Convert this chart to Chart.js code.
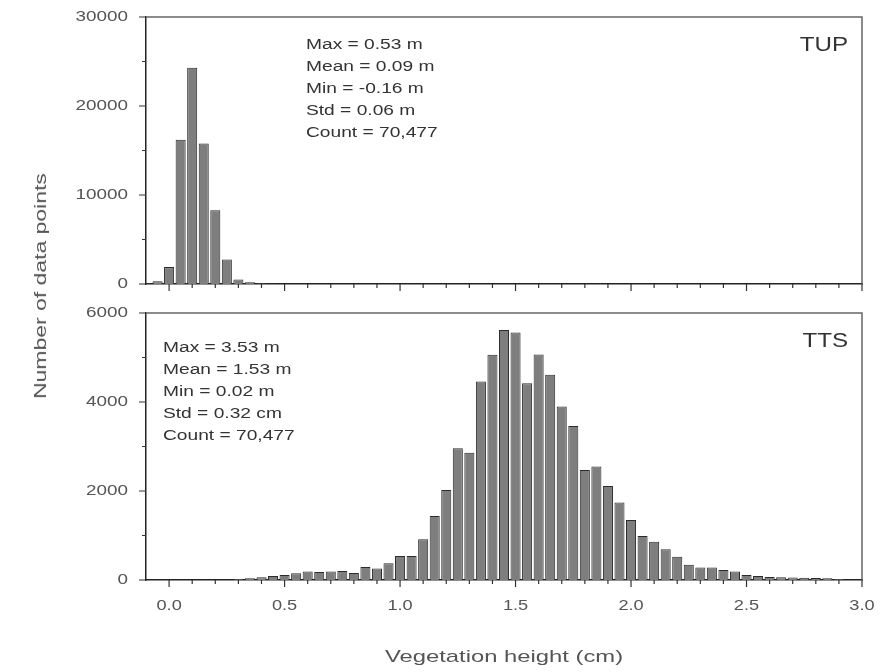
<!DOCTYPE html>
<html>
<head>
<meta charset="utf-8">
<script src="https://cdn.jsdelivr.net/npm/chart.js@4.4.1/dist/chart.umd.min.js"></script>
<style>
  body { margin: 0; background: #fff; }
  #wrap { position: relative; width: 885px; height: 672px; }
  canvas { position: absolute; left: 0; }
  #ytitle {
    position: absolute; left: 41px; top: 286px;
    font: 17px "Liberation Sans", Arial, sans-serif; color: #555; white-space: nowrap;
    transform: translate(-50%, -50%) rotate(-90deg) scaleX(1.35);
  }
</style>
</head>
<body>
<div id="wrap">
  <canvas id="top" width="885" height="300" style="top:0"></canvas>
  <canvas id="bottom" width="885" height="372" style="top:300px"></canvas>
  <div id="ytitle">Number of data points</div>
</div>
<script>
// histogram bins (centre of each 0.05 m class) and counts
const tupBins = [-0.10, -0.05, 0.00, 0.05, 0.10, 0.15, 0.20, 0.25, 0.30, 0.35, 0.40, 0.45, 0.50];
const tupCounts = [60, 300, 1900, 16200, 24300, 15800, 8300, 2750, 500, 200, 80, 40, 27];

const ttsBins = [0.30, 0.35, 0.40, 0.45, 0.50, 0.55, 0.60, 0.65, 0.70, 0.75, 0.80, 0.85, 0.90, 0.95,
  1.00, 1.05, 1.10, 1.15, 1.20, 1.25, 1.30, 1.35, 1.40, 1.45, 1.50, 1.55, 1.60, 1.65, 1.70, 1.75,
  1.80, 1.85, 1.90, 1.95, 2.00, 2.05, 2.10, 2.15, 2.20, 2.25, 2.30, 2.35, 2.40, 2.45, 2.50, 2.55,
  2.60, 2.65, 2.70, 2.75, 2.80, 2.85, 2.90];
const ttsCounts = [20, 40, 60, 90, 110, 150, 190, 180, 190, 200, 160, 290, 260, 375,
  540, 540, 915, 1440, 2020, 2960, 2860, 4460, 5060, 5620, 5560, 4420, 5070, 4610, 3900, 3460,
  2470, 2550, 2110, 1740, 1350, 990, 860, 690, 520, 340, 280, 280, 225, 190, 110, 90,
  70, 60, 55, 50, 45, 40, 20];

const tupYTicks = ['0', '10000', '20000', '30000'];
const tupYMinor = [5000, 15000, 25000];
const ttsYTicks = ['0', '2000', '4000', '6000'];
const ttsYMinor = [1000, 3000, 5000];
const xTickLabels = ['0.0', '0.5', '1.0', '1.5', '2.0', '2.5', '3.0'];

const tupStats = ['Max = 0.53 m', 'Mean = 0.09 m', 'Min = -0.16 m', 'Std = 0.06 m', 'Count = 70,477'];
const ttsStats = ['Max = 3.53 m', 'Mean = 1.53 m', 'Min = 0.02 m', 'Std = 0.32 cm', 'Count = 70,477'];

const FONT = '"Liberation Sans", Arial, sans-serif';

// text in the source is drawn wide, so stretch it horizontally
function wideText(ctx, txt, x, y, size, sx, align, color) {
  ctx.save();
  ctx.font = size + 'px ' + FONT;
  ctx.fillStyle = color;
  ctx.textBaseline = 'middle';
  ctx.textAlign = align;
  ctx.translate(x, y);
  ctx.scale(sx, 1);
  ctx.fillText(txt, 0, 0);
  ctx.restore();
}

const xMinor = [];
for (let i = 1; i < 30; i++) if (i % 5 !== 0) xMinor.push(i / 10);

function panelPlugin(p) {
  return {
    id: 'panel',
    afterDraw(chart) {
      const { ctx, chartArea: a, scales: { x, y } } = chart;
      ctx.save();
      // top / right frame
      ctx.strokeStyle = '#666';
      ctx.lineWidth = 1.5;
      ctx.beginPath();
      ctx.moveTo(a.left, a.top);
      ctx.lineTo(a.right, a.top);
      ctx.lineTo(a.right, a.bottom);
      ctx.stroke();

      ctx.strokeStyle = '#333';
      ctx.lineWidth = 1.2;
      ctx.beginPath();
      p.yTicks.forEach(t => {
        const py = y.getPixelForValue(+t);
        ctx.moveTo(a.left - 7, py); ctx.lineTo(a.left, py);
      });
      p.yMinor.forEach(v => {
        const py = y.getPixelForValue(v);
        ctx.moveTo(a.left - 4, py); ctx.lineTo(a.left, py);
      });
      xTickLabels.forEach(t => {
        const px = x.getPixelForValue(+t);
        ctx.moveTo(px, a.bottom); ctx.lineTo(px, a.bottom + 7);
      });
      xMinor.forEach(v => {
        const px = x.getPixelForValue(v);
        ctx.moveTo(px, a.bottom); ctx.lineTo(px, a.bottom + 4);
      });
      ctx.stroke();
      ctx.restore();

      p.yTicks.forEach(t => {
        wideText(ctx, t, a.left - 18, y.getPixelForValue(+t), 14, 1.35, 'right', '#555');
      });
      if (p.xLabels) {
        xTickLabels.forEach(t => {
          wideText(ctx, t, x.getPixelForValue(+t), a.bottom + 26, 14, 1.3, 'center', '#555');
        });
        wideText(ctx, 'Vegetation height (cm)', (a.left + a.right) / 2, a.bottom + 77, 17, 1.4, 'center', '#555');
      }
      p.stats.forEach((s, i) => {
        wideText(ctx, s, p.statX(a), p.statY(a) + i * 22, 14, 1.37, 'left', '#333');
      });
      wideText(ctx, p.name, a.right - 14, a.top + 28, 21, 1.15, 'right', '#333');
    }
  };
}

function makeChart(id, bins, counts, yMax, padTop, xHeight, p) {
  const ctx = document.getElementById(id).getContext('2d');
  return new Chart(ctx, {
    type: 'bar',
    data: {
      datasets: [{
        data: bins.map((b, i) => ({ x: b, y: counts[i] })),
        backgroundColor: '#7e7e7e',
        borderColor: '#2b2b2b',
        borderWidth: 1,
        barPercentage: 0.87,
        categoryPercentage: 1
      }]
    },
    options: {
      responsive: false,
      animation: false,
      layout: { padding: { left: 0, right: 23, top: padTop, bottom: 0 } },
      plugins: { legend: { display: false }, tooltip: { enabled: false } },
      scales: {
        x: {
          type: 'linear', min: -0.1, max: 3.0, offset: false,
          grid: { display: false, offset: false },
          ticks: { display: false },
          border: { color: '#222', width: 1.5 },
          afterFit: s => { s.height = xHeight; }
        },
        y: {
          min: 0, max: yMax,
          grid: { display: false },
          ticks: { display: false },
          border: { color: '#222', width: 1.5 },
          afterFit: s => { s.width = 146; }
        }
      }
    },
    plugins: [panelPlugin(p)]
  });
}

makeChart('top', tupBins, tupCounts, 30000, 17, 16, {
  name: 'TUP', yTicks: tupYTicks, yMinor: tupYMinor, stats: tupStats, xLabels: false,
  statX: a => a.left + 160, statY: a => a.top + 28
});
makeChart('bottom', ttsBins, ttsCounts, 6000, 13, 92, {
  name: 'TTS', yTicks: ttsYTicks, yMinor: ttsYMinor, stats: ttsStats, xLabels: true,
  statX: a => a.left + 17, statY: a => a.top + 35
});
</script>
</body>
</html>
